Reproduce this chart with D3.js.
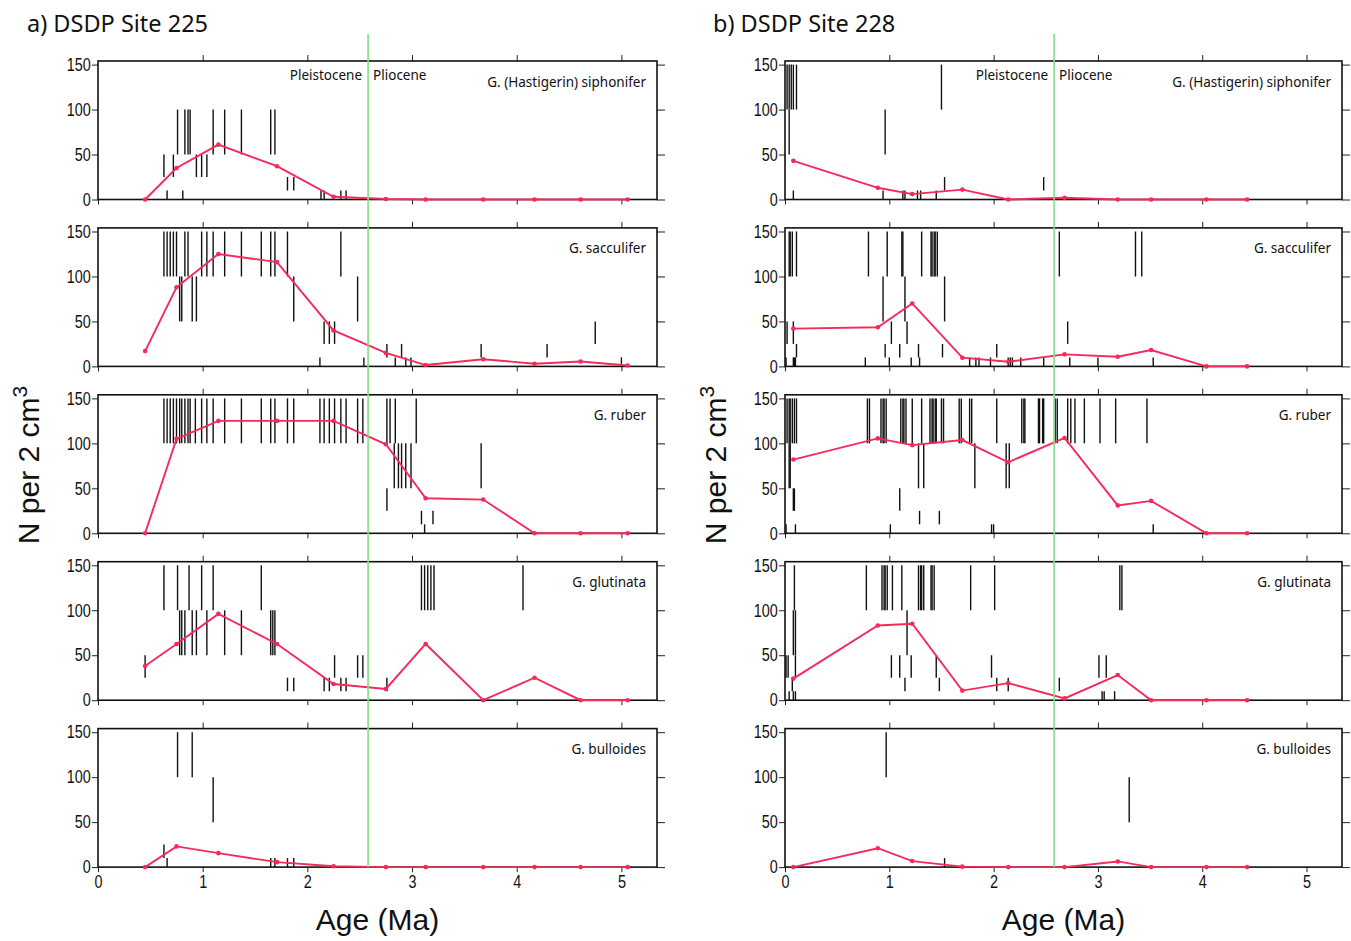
<!DOCTYPE html>
<html>
<head>
<meta charset="utf-8">
<script src="https://cdn.jsdelivr.net/npm/d3@7"></script>
<style>
  body { margin: 0; background: #fff; }
  svg text { font-family: "Liberation Sans", Arial, sans-serif; fill: #111; }
  svg .humanist { font-family: "Noto Sans", "Open Sans", sans-serif; }
</style>
</head>
<body>
<svg id="chart" width="1351" height="941"></svg>
<script>
(function () {

    // ---- data ----
    var speciesNames = ["G. (Hastigerin) siphonifer", "G. sacculifer", "G. ruber", "G. glutinata", "G. bulloides"];

    // sample ages (Ma) of the red abundance curves
    var ages225 = [0.45, 0.75, 1.15, 1.71, 2.25, 2.75, 3.13, 3.68, 4.17, 4.61, 5.06];
    var siph225 = [0, 35, 61, 37, 3, 0.5, 0, 0, 0, 0, 0];
    var sacc225 = [17, 88, 125, 116, 40, 15, 1.5, 8, 3, 5.5, 1];
    var ruber225 = [0, 105, 125, 125, 125, 99, 39, 37.5, 0, 0, 0];
    var glut225 = [38, 62.5, 96, 62.5, 18, 12.5, 62.5, 0, 25, 0, 0];
    var bull225 = [0, 23, 15.5, 5.5, 1, 0, 0, 0, 0, 0, 0];

    var ages228 = [0.08, 0.89, 1.22, 1.70, 2.14, 2.68, 3.19, 3.51, 4.04, 4.43];
    var siph228 = [43, 13, 6, 11, 0, 2, 0, 0, 0, 0];
    var sacc228 = [42, 43.5, 70, 9.7, 5.2, 13.4, 10.8, 18.2, 0, 0];
    var ruber228 = [82, 105.5, 98, 103.7, 79, 106, 31, 36, 0, 0];
    var glut228 = [24, 83, 85, 10.7, 19, 2, 28, 0, 0, 0];
    var bull228 = [0, 21, 6.7, 0.5, 0, 0, 6.3, 0, 0, 0];

    // black occurrence ticks: [low, high, [ages...]]
    var marksSiph225 = [
        [50, 100, [0.76, 0.83, 0.86, 0.88, 1.10, 1.21, 1.37, 1.65, 1.69]],
        [25, 50, [0.63, 0.72, 0.94, 0.99, 1.04]],
        [10, 25, [1.81, 1.87]],
        [0, 10, [0.66, 0.81, 2.13, 2.16, 2.32, 2.37]]
    ];
    var marksSacc225 = [
        [100, 150, [0.63, 0.66, 0.69, 0.72, 0.75, 0.83, 0.86, 0.99, 1.04, 1.10, 1.21, 1.37, 1.56, 1.65, 1.69, 1.81, 2.32]],
        [50, 100, [0.78, 0.80, 0.90, 0.94, 1.87, 2.48]],
        [25, 50, [2.16, 2.21, 2.26, 4.75]],
        [10, 25, [2.76, 2.90, 3.66, 4.29]],
        [0, 10, [2.12, 2.54, 2.84, 2.94, 2.99, 5.00]]
    ];
    var marksRuber225 = [
        [100, 150, [0.63, 0.66, 0.69, 0.72, 0.75, 0.78, 0.80, 0.83, 0.86, 0.88, 0.93, 0.99, 1.04, 1.10, 1.21, 1.37, 1.56,
            1.65, 1.69, 1.81, 1.87, 2.12, 2.16, 2.21, 2.26, 2.32, 2.37, 2.48, 2.53, 2.76, 2.79, 2.84, 3.04]],
        [50, 100, [2.83, 2.87, 2.90, 2.94, 2.99, 3.66]],
        [25, 50, [2.76]],
        [10, 25, [3.09, 3.20]],
        [0, 10, [3.12]]
    ];
    var marksGlut225 = [
        [100, 150, [0.63, 0.76, 0.87, 0.99, 1.10, 1.56, 3.09, 3.12, 3.15, 3.18, 3.21, 4.06]],
        [50, 100, [0.78, 0.80, 0.83, 0.90, 0.94, 1.04, 1.21, 1.37, 1.65, 1.67, 1.69]],
        [25, 50, [0.45, 2.26, 2.48, 2.53]],
        [10, 25, [1.81, 1.87, 2.16, 2.21, 2.32, 2.37, 2.76]]
    ];
    var marksBull225 = [
        [100, 150, [0.76, 0.90]],
        [50, 100, [1.10]],
        [10, 25, [0.63]],
        [0, 10, [0.66, 1.65, 1.69, 1.81, 1.87]]
    ];

    var marksSiph228 = [
        [100, 150, [0.02, 0.04, 0.06, 0.08, 0.11, 1.50]],
        [50, 100, [0.04, 0.96]],
        [10, 25, [1.53, 2.48]],
        [0, 10, [0.08, 0.94, 1.13, 1.15, 1.27, 1.30, 1.45]]
    ];
    var marksSacc228 = [
        [100, 150, [0.04, 0.05, 0.07, 0.11, 0.80, 0.98, 1.12, 1.13, 1.31, 1.40, 1.41, 1.43, 1.44, 1.46, 2.63, 3.36, 3.42]],
        [50, 100, [0.94, 1.15, 1.53]],
        [25, 50, [0.02, 0.08, 1.02, 1.17, 2.71]],
        [10, 25, [0.11, 0.96, 1.10, 1.28, 1.51, 2.03]],
        [0, 10, [0.01, 0.08, 0.09, 0.10, 0.77, 1.00, 1.21, 1.29, 1.77, 1.83, 1.86, 1.97, 2.14, 2.16, 2.18, 2.26, 2.48, 2.73, 3.00, 3.53]]
    ];
    var marksRuber228 = [
        [100, 150, [0.02, 0.04, 0.05, 0.07, 0.09, 0.11, 0.79, 0.81, 0.92, 0.94, 0.95, 0.97, 1.11, 1.13, 1.14, 1.16, 1.22,
            1.31, 1.39, 1.41, 1.42, 1.44, 1.45, 1.50, 1.52, 1.67, 1.69, 1.77, 1.79, 2.03, 2.27, 2.29, 2.30, 2.43, 2.44,
            2.47, 2.48, 2.59, 2.61, 2.71, 2.74, 2.78, 2.87, 3.02, 3.17, 3.47]],
        [50, 100, [0.04, 0.05, 1.28, 1.33, 1.82, 2.12, 2.15]],
        [25, 50, [0.08, 0.09, 1.10]],
        [10, 25, [1.29, 1.48]],
        [0, 10, [0.01, 0.10, 1.01, 1.98, 2.00, 3.53]]
    ];
    var marksGlut228 = [
        [100, 150, [0.09, 0.78, 0.93, 0.95, 0.96, 0.98, 1.03, 1.12, 1.28, 1.30, 1.31, 1.33, 1.40, 1.41, 1.43, 1.78, 2.01, 3.21, 3.23]],
        [50, 100, [0.08, 0.10, 1.17]],
        [25, 50, [0.01, 0.03, 0.10, 1.02, 1.10, 1.21, 1.45, 1.98, 3.01, 3.08]],
        [10, 25, [0.07, 1.15, 1.48, 2.03, 2.14, 2.63]],
        [0, 10, [0.04, 0.08, 0.10, 3.04, 3.06, 3.16]]
    ];
    var marksBull228 = [
        [100, 150, [0.97]],
        [50, 100, [3.30]],
        [0, 10, [1.53]]
    ];

    var yTicks = [0, 50, 100, 150];
    var xTicks = [0, 1, 2, 3, 4, 5];
    var BOUNDARY_AGE = 2.58;   // Pleistocene / Pliocene

    // ---- layout ----
    var AGE_MAX = 5.34, N_MAX = 154;
    var PANEL_TOP = 61, PANEL_STEP = 166.9, PANEL_H = 138.5;
    var RED = "#f52a5a", GREEN = "#84de84";
    var NARROW = "scale(0.8,1)";  // tick numbers in the figure are condensed

    var sites = [
        { title: "a) DSDP Site 225", x0: 98, x1: 657, titleX: 27, ages: ages225,
          counts: [siph225, sacc225, ruber225, glut225, bull225],
          marks: [marksSiph225, marksSacc225, marksRuber225, marksGlut225, marksBull225] },
        { title: "b) DSDP Site 228", x0: 785, x1: 1342, titleX: 713, ages: ages228,
          counts: [siph228, sacc228, ruber228, glut228, bull228],
          marks: [marksSiph228, marksSacc228, marksRuber228, marksGlut228, marksBull228] }
    ];

    var svg = d3.select("#chart");

    sites.forEach(function (site) {
        var x = d3.scaleLinear().domain([0, AGE_MAX]).range([site.x0, site.x1]);
        var g = svg.append("g");

        g.append("text")
            .attr("class", "humanist")
            .attr("x", site.titleX)
            .attr("y", 32)
            .attr("font-size", 23.5)
            .text(site.title);

        speciesNames.forEach(function (name, i) {
            var top = PANEL_TOP + i * PANEL_STEP;
            var bottom = top + PANEL_H;
            var y = d3.scaleLinear().domain([0, N_MAX]).range([bottom, top]);
            var p = g.append("g");

            // outer ticks
            var left = p.append("g").attr("transform", "translate(" + site.x0 + ",0)")
                .call(d3.axisLeft(y).tickValues(yTicks).tickSize(6).tickPadding(3));
            left.select(".domain").remove();
            left.selectAll("text").attr("font-size", 18).attr("transform", NARROW);

            var right = p.append("g").attr("transform", "translate(" + site.x1 + ",0)")
                .call(d3.axisRight(y).tickValues(yTicks).tickSize(8).tickFormat(""));
            right.select(".domain").remove();

            var topAx = p.append("g").attr("transform", "translate(0," + top + ")")
                .call(d3.axisTop(x).tickValues(xTicks.slice(1)).tickSize(6).tickFormat(""));
            topAx.select(".domain").remove();

            var bottomAx = p.append("g").attr("transform", "translate(0," + bottom + ")")
                .call(d3.axisBottom(x).tickValues(xTicks).tickSize(5).tickPadding(3)
                    .tickFormat(i === speciesNames.length - 1 ? d3.format("d") : ""));
            bottomAx.select(".domain").remove();
            bottomAx.selectAll("text").attr("font-size", 18).attr("transform", NARROW);

            p.selectAll(".tick line").attr("stroke", "#222").attr("stroke-width", 1);

            // frame
            p.append("rect")
                .attr("x", site.x0).attr("y", top)
                .attr("width", site.x1 - site.x0).attr("height", PANEL_H)
                .attr("fill", "none").attr("stroke", "#111").attr("stroke-width", 1.6);

            // occurrence ticks
            var flat = [];
            site.marks[i].forEach(function (grp) {
                grp[2].forEach(function (a) { flat.push({ age: a, lo: grp[0], hi: grp[1] }); });
            });
            p.selectAll("line.mark").data(flat).enter().append("line")
                .attr("class", "mark")
                .attr("x1", function (d) { return x(d.age); })
                .attr("x2", function (d) { return x(d.age); })
                .attr("y1", function (d) { return y(d.lo); })
                .attr("y2", function (d) { return y(d.hi); })
                .attr("stroke", "#111").attr("stroke-width", 1.4);

            // abundance curve
            var pts = site.ages.map(function (a, k) { return [a, site.counts[i][k]]; });
            p.append("path")
                .datum(pts)
                .attr("fill", "none").attr("stroke", RED).attr("stroke-width", 1.9)
                .attr("d", d3.line().x(function (d) { return x(d[0]); }).y(function (d) { return y(d[1]); }));
            p.selectAll("circle").data(pts).enter().append("circle")
                .attr("cx", function (d) { return x(d[0]); })
                .attr("cy", function (d) { return y(d[1]); })
                .attr("r", 2.3).attr("fill", RED);

            // species label
            p.append("text")
                .attr("class", "humanist")
                .attr("x", site.x1 - 11)
                .attr("y", top + 25.5)
                .attr("text-anchor", "end")
                .attr("font-size", 13.5)
                .text(name);

            if (i === 0) {
                p.append("text").attr("class", "humanist")
                    .attr("x", x(BOUNDARY_AGE) - 6).attr("y", top + 19)
                    .attr("text-anchor", "end").attr("font-size", 13.5)
                    .text("Pleistocene");
                p.append("text").attr("class", "humanist")
                    .attr("x", x(BOUNDARY_AGE) + 5).attr("y", top + 19)
                    .attr("font-size", 13.5)
                    .text("Pliocene");
            }
        });

        // epoch boundary
        var lastBottom = PANEL_TOP + (speciesNames.length - 1) * PANEL_STEP + PANEL_H;
        g.append("line")
            .attr("x1", x(BOUNDARY_AGE)).attr("x2", x(BOUNDARY_AGE))
            .attr("y1", 34).attr("y2", lastBottom)
            .attr("stroke", GREEN).attr("stroke-width", 1.6);

        // axis titles
        g.append("text")
            .attr("x", (site.x0 + site.x1) / 2)
            .attr("y", 930)
            .attr("text-anchor", "middle")
            .attr("font-size", 30)
            .text("Age (Ma)");

        var yl = g.append("text")
            .attr("transform", "translate(" + (site.x0 - 59) + ",465) rotate(-90)")
            .attr("text-anchor", "middle")
            .attr("font-size", 30);
        yl.append("tspan").text("N per 2 cm");
        yl.append("tspan").attr("dy", -12).attr("font-size", 21).text("3");
    });
})();
</script>
</body>
</html>
